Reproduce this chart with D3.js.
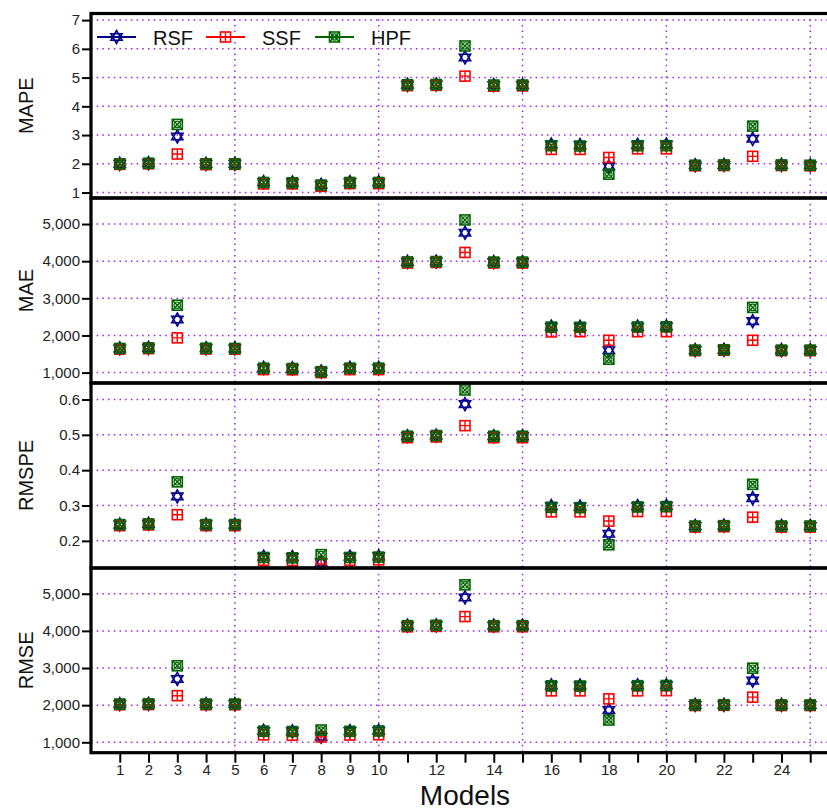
<!DOCTYPE html>
<html>
<head>
<meta charset="utf-8">
<script src="https://cdn.jsdelivr.net/npm/d3@7"></script>
<style>
  body { margin: 0; background: #fff; }
  text { font-family: 'Liberation Sans', Arial, sans-serif; }
</style>
</head>
<body>
<script>
// Data
const models = [1, 2, 3, 4, 5, 6, 7, 8, 9, 10, 11, 12, 13, 14, 15, 16, 17, 18, 19, 20, 21, 22, 23, 24, 25];
const xLabels = [1, 2, 3, 4, 5, 6, 7, 8, 9, 10, 12, 14, 16, 18, 20, 22, 24];
const seriesNames = ['RSF', 'SSF', 'HPF'];

const mapeRSF = [2.0, 2.02, 2.95, 2.0, 2.0, 1.36, 1.35, 1.27, 1.36, 1.36, 4.75, 4.76, 5.7, 4.74, 4.74, 2.67, 2.65, 1.91, 2.66, 2.67, 1.95, 1.96, 2.87, 1.96, 1.95];
const mapeSSF = [1.98, 2.0, 2.34, 1.97, 1.98, 1.3, 1.3, 1.22, 1.31, 1.31, 4.72, 4.73, 5.05, 4.7, 4.71, 2.5, 2.5, 2.22, 2.52, 2.52, 1.93, 1.94, 2.26, 1.94, 1.93];
const mapeHPF = [2.0, 2.02, 3.37, 2.0, 2.0, 1.35, 1.34, 1.26, 1.35, 1.35, 4.75, 4.76, 6.1, 4.74, 4.74, 2.63, 2.62, 1.64, 2.63, 2.63, 1.95, 1.96, 3.31, 1.96, 1.95];

const maeRSF = [1650, 1665, 2430, 1655, 1650, 1125, 1115, 1030, 1125, 1125, 3980, 3990, 4765, 3975, 3975, 2235, 2230, 1600, 2235, 2240, 1605, 1615, 2385, 1605, 1605];
const maeSSF = [1630, 1645, 1935, 1635, 1630, 1080, 1075, 1000, 1080, 1080, 3950, 3965, 4235, 3950, 3950, 2095, 2100, 1870, 2100, 2100, 1590, 1600, 1870, 1590, 1590];
const maeHPF = [1650, 1665, 2815, 1655, 1650, 1120, 1110, 1025, 1120, 1120, 3980, 3990, 5110, 3975, 3975, 2225, 2220, 1360, 2230, 2235, 1605, 1615, 2755, 1605, 1605];

const rmspeRSF = [0.246, 0.248, 0.326, 0.246, 0.246, 0.155, 0.154, 0.139, 0.155, 0.156, 0.496, 0.498, 0.587, 0.496, 0.496, 0.298, 0.297, 0.220, 0.298, 0.299, 0.242, 0.243, 0.321, 0.242, 0.242];
const rmspeSSF = [0.243, 0.245, 0.274, 0.243, 0.243, 0.145, 0.144, 0.135, 0.145, 0.146, 0.492, 0.494, 0.526, 0.492, 0.492, 0.282, 0.282, 0.256, 0.283, 0.283, 0.239, 0.240, 0.267, 0.239, 0.239];
const rmspeHPF = [0.246, 0.248, 0.367, 0.246, 0.246, 0.153, 0.152, 0.161, 0.153, 0.154, 0.496, 0.498, 0.627, 0.496, 0.496, 0.295, 0.294, 0.189, 0.296, 0.297, 0.242, 0.243, 0.360, 0.242, 0.242];

const rmseRSF = [2030, 2035, 2705, 2030, 2030, 1305, 1295, 1150, 1300, 1310, 4140, 4150, 4900, 4140, 4140, 2530, 2525, 1870, 2530, 2535, 2005, 2010, 2660, 2005, 2005];
const rmseSSF = [2010, 2015, 2255, 2010, 2010, 1200, 1190, 1145, 1195, 1205, 4110, 4120, 4385, 4110, 4110, 2385, 2385, 2170, 2385, 2390, 1990, 1995, 2215, 1990, 1990];
const rmseHPF = [2030, 2035, 3060, 2030, 2030, 1300, 1290, 1330, 1295, 1305, 4140, 4150, 5240, 4140, 4140, 2520, 2515, 1600, 2525, 2530, 2005, 2010, 2995, 2005, 2005];

const mapeTicks = [1, 2, 3, 4, 5, 6, 7];
const maeTicks = [1000, 2000, 3000, 4000, 5000];
const rmspeTicks = [0.2, 0.3, 0.4, 0.5, 0.6];
const rmseTicks = [1000, 2000, 3000, 4000, 5000];

// Layout
const W = 827, H = 810;
const left = 91, right = 839;
const panelEdges = [13.5, 198, 383, 568, 752.7];
const colors = { RSF: '#00008b', SSF: '#ff0000', HPF: '#006400' };
const gridColor = '#a020f0';

const panels = [
  { label: 'MAPE', domain: [0.81, 7.23], ticks: mapeTicks, fmt: d3.format('d'), series: [mapeRSF, mapeSSF, mapeHPF] },
  { label: 'MAE', domain: [720, 5701], ticks: maeTicks, fmt: d3.format(','), series: [maeRSF, maeSSF, maeHPF] },
  { label: 'RMSPE', domain: [0.1232, 0.6467], ticks: rmspeTicks, fmt: d3.format('.1f'), series: [rmspeRSF, rmspeSSF, rmspeHPF] },
  { label: 'RMSE', domain: [720, 5693], ticks: rmseTicks, fmt: d3.format(','), series: [rmseRSF, rmseSSF, rmseHPF] }
];

const svg = d3.select('body').append('svg')
  .attr('width', W)
  .attr('height', H);

const x = d3.scaleLinear().domain([0, 26]).range([left, right]);
const vGrid = [5, 10, 15, 20, 25];

// marker drawers
function drawMarker(g, name) {
  const c = colors[name];
  if (name === 'RSF') {
    const r = 6.5, h = 3.25, w = 5.6;
    g.append('path')
      .attr('d', `M0,${-r}L${w},${h}L${-w},${h}Z M0,${r}L${w},${-h}L${-w},${-h}Z`)
      .attr('fill', 'none').attr('stroke', c).attr('stroke-width', 1.6);
  } else if (name === 'SSF') {
    g.append('rect').attr('x', -5).attr('y', -5).attr('width', 10).attr('height', 10)
      .attr('fill', 'none').attr('stroke', c).attr('stroke-width', 1.6);
    g.append('path').attr('d', 'M0,-5V5M-5,0H5')
      .attr('stroke', c).attr('stroke-width', 1.4);
  } else {
    g.append('rect').attr('x', -5).attr('y', -5).attr('width', 10).attr('height', 10)
      .attr('fill', 'none').attr('stroke', c).attr('stroke-width', 1.6);
    g.append('path').attr('d', 'M-5,-5L5,5M5,-5L-5,5')
      .attr('stroke', c).attr('stroke-width', 1.4);
    g.append('circle').attr('r', 3.2)
      .attr('fill', 'none').attr('stroke', c).attr('stroke-width', 1.2);
  }
}

panels.forEach((p, i) => {
  const top = panelEdges[i], bottom = panelEdges[i + 1];
  const y = d3.scaleLinear().domain(p.domain).range([bottom, top]);
  const g = svg.append('g');

  // grid
  g.selectAll('.hg').data(p.ticks).enter().append('line')
    .attr('x1', left).attr('x2', right)
    .attr('y1', d => y(d)).attr('y2', d => y(d))
    .attr('stroke', gridColor).attr('stroke-width', 1.5)
    .attr('stroke-dasharray', '1.5,4.2');
  g.selectAll('.vg').data(vGrid).enter().append('line')
    .attr('x1', d => x(d)).attr('x2', d => x(d))
    .attr('y1', top).attr('y2', bottom)
    .attr('stroke', gridColor).attr('stroke-width', 1.5)
    .attr('stroke-dasharray', '1.5,4.2');

  // y axis
  const yAxis = g.append('g')
    .attr('transform', `translate(${left},0)`)
    .call(d3.axisLeft(y).tickValues(p.ticks).tickFormat(p.fmt).tickSize(9).tickPadding(2));
  yAxis.select('.domain').remove();
  yAxis.selectAll('.tick line').attr('stroke', '#000').attr('stroke-width', 2);
  yAxis.selectAll('.tick text').attr('font-size', 15).attr('fill', '#222')
    .style('font-family', "'Liberation Sans', Arial, sans-serif");

  // y label
  g.append('text')
    .attr('transform', `translate(33,${(top + bottom) / 2}) rotate(-90)`)
    .attr('text-anchor', 'middle')
    .attr('font-size', 20)
    .attr('fill', '#111')
    .text(p.label);

  // points: RSF, SSF, HPF
  p.series.forEach((vals, s) => {
    const name = seriesNames[s];
    g.selectAll(`.pt-${name}`).data(vals).enter().append('g')
      .attr('transform', (d, j) => `translate(${x(models[j])},${y(d)})`)
      .each(function () { drawMarker(d3.select(this), name); });
  });
});

// panel frames
panels.forEach((p, i) => {
  svg.append('rect')
    .attr('x', left).attr('y', panelEdges[i])
    .attr('width', right - left).attr('height', panelEdges[i + 1] - panelEdges[i])
    .attr('fill', 'none').attr('stroke', '#000').attr('stroke-width', 3.2);
});

// x axis
const xAxis = svg.append('g')
  .attr('transform', `translate(0,${panelEdges[4] + 1})`)
  .call(d3.axisBottom(x).tickValues(models).tickFormat(d => d).tickSize(9).tickPadding(2));
xAxis.select('.domain').remove();
xAxis.selectAll('.tick line').attr('stroke', '#000').attr('stroke-width', 2);
xAxis.selectAll('.tick text').filter(d => !xLabels.includes(d)).remove();
xAxis.selectAll('.tick text').attr('font-size', 15).attr('fill', '#222')
  .style('font-family', "'Liberation Sans', Arial, sans-serif");

svg.append('text')
  .attr('x', (left + right) / 2)
  .attr('y', 804.5)
  .attr('text-anchor', 'middle')
  .attr('font-size', 28)
  .attr('fill', '#111')
  .text('Models');

// legend
const legend = svg.append('g').attr('transform', 'translate(0,37)');
const legX = [97, 206, 315];
seriesNames.forEach((name, i) => {
  const lg = legend.append('g').attr('transform', `translate(${legX[i]},0)`);
  lg.append('line').attr('x1', 0).attr('x2', 39).attr('y1', 0).attr('y2', 0)
    .attr('stroke', colors[name]).attr('stroke-width', 2);
  const m = lg.append('g').attr('transform', 'translate(19.5,0)');
  drawMarker(m, name);
  lg.append('text').attr('x', 56).attr('y', 7.5)
    .attr('font-size', 20).attr('fill', '#111').text(name);
});
</script>
</body>
</html>
